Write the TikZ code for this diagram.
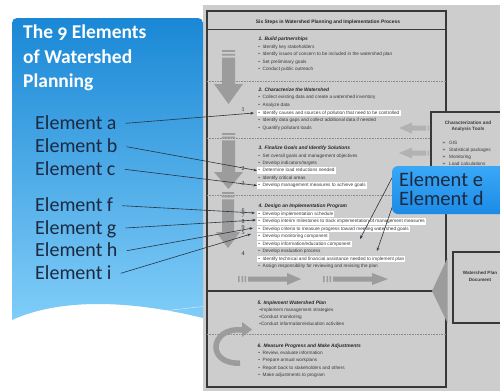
\documentclass[tikz,border=0pt]{standalone}
\usepackage{fontspec}
\setmainfont{Liberation Sans}
\newfontfamily\calib[Numbers=OldStyle]{Carlito}
\newfontfamily\dejavu{DejaVu Sans}
\newfontfamily\tms{Liberation Serif}
\usetikzlibrary{arrows.meta}
\definecolor{bgray}{HTML}{CDCDCD}
\definecolor{boxline}{HTML}{383838}
\definecolor{arrgray}{HTML}{9C9C9C}
\definecolor{larrgray}{HTML}{B2B2B2}
\definecolor{txtgray}{HTML}{3A3A3A}
\definecolor{navy}{HTML}{1C2940}
\definecolor{ptop}{HTML}{1A88D6}
\definecolor{pmid}{HTML}{4AAAEC}
\definecolor{pbot}{HTML}{80CDF8}
\definecolor{ctop}{HTML}{3AA8F6}
\definecolor{cbot}{HTML}{1C8BE6}
\definecolor{conncol}{HTML}{2A3440}
\tikzset{
  bul/.style={anchor=west, inner xsep=1.2pt, inner ysep=0.8pt, text height=3.6pt, text depth=1.1pt,
    font=\fontsize{4.7}{5}\selectfont, text=txtgray},
  hl/.style={bul, fill=white},
  stt/.style={anchor=west, inner sep=0.5pt, font=\fontsize{4.9}{5}\selectfont\bfseries\itshape, text=black!85},
  elab/.style={anchor=base west, inner sep=0pt, text height=12pt, text depth=0pt,
    font=\calib\fontsize{20}{23}\selectfont, text=navy},
  ttl/.style={anchor=base west, inner sep=0pt, font=\calib\bfseries\fontsize{19.5}{23}\selectfont, text=white},
  num/.style={font=\tms\fontsize{6}{6}\selectfont, inner sep=0pt, text=black!85},
  conn/.style={draw=conncol, line width=0.6pt, -{Stealth[length=3.5pt,width=2.6pt]}},
  sep/.style={draw=black!45, line width=0.4pt, dash pattern=on 0.8pt off 0.8pt},
  boxl/.style={draw=boxline, line width=1.1pt},
  small/.style={font=\fontsize{4.7}{5.6}\selectfont, text=txtgray, inner sep=0pt},
  calltxt/.style={anchor=base west, inner sep=0pt, text height=13pt, text depth=0pt,
    font=\calib\fontsize{20.5}{21}\selectfont, text=navy}
}
\newcommand\wsitem[3]{\node[bul] (#1) at (257,#2) {\textbullet\hspace{2.6pt}#3};}
\newcommand\wshitem[3]{\node[hl] (#1) at (257,#2) {\textbullet\hspace{2.6pt}#3};}
\begin{document}
\begin{tikzpicture}[x=1pt,y=-1pt]
\useasboundingbox (0,0) rectangle (500,391);
\fill[white] (0,0) rectangle (500,391);
% scanned figure background
\fill[bgray] (203,5) rectangle (500,391);
\draw[boxl] (207,11) rectangle (446,387);
\draw[draw=boxline, line width=0.6pt] (207,29) -- (446,29);
\draw[draw=boxline, line width=1.6pt] (207,291) -- (433,291);
\draw[sep] (207,81) -- (446,81);
\draw[sep] (207,138) -- (446,138);
\draw[sep] (207,195) -- (446,195);
\draw[sep] (207,334) -- (446,334);
\node[font=\fontsize{4.9}{5}\selectfont\bfseries, text=black!85, inner sep=0pt] (maintitle) at (328,22) {Six Steps in Watershed Planning and Implementation Process};
% down arrows
\fill[arrgray] (222,50) rectangle (235,51.8) (222,53.8) rectangle (235,55.6) (222,57.6) rectangle (235,84)
  (214,84) -- (243,84) -- (228.5,104) -- cycle;
\fill[arrgray] (222,133) rectangle (235,134.8) (222,136.6) rectangle (235,138.4) (222,140.4) rectangle (235,172)
  (214,172) -- (243,172) -- (228.5,189) -- cycle;
\fill[arrgray] (222,192) rectangle (234,193.8) (222,195.6) rectangle (234,197.4) (222,199.4) rectangle (234,232)
  (216,232) -- (240,232) -- (228,248) -- cycle;
% horizontal arrows
\fill[arrgray] (238,276) rectangle (239.5,282) (241.5,276) rectangle (243,282) (244.5,276) rectangle (246,282)
  (248,276.5) rectangle (287,281.5) (287,273) -- (301,279) -- (287,285) -- cycle;
\fill[arrgray] (323,276) rectangle (324.5,282) (326.5,276) rectangle (328,282) (329.5,276) rectangle (331,282)
  (333,276.5) rectangle (372,281.5) (372,273) -- (388,279) -- (372,285) -- cycle;
% curved arrow
\draw[arrgray, line width=5.5pt] (243,330) .. controls (225,328) and (216,338) .. (216,347) .. controls (216,357) and (226,364) .. (240,363);
\fill[arrgray] (242,322) -- (252,329.5) -- (242,337) -- cycle;
% step 1
\node[stt] (s1) at (258,39) {1. Build partnerships};
\wsitem{s1a}{47}{Identify key stakeholders}
\wsitem{s1b}{54}{Identify issues of concern to be included in the watershed plan}
\wsitem{s1c}{62}{Set preliminary goals}
\wsitem{s1d}{69}{Conduct public outreach}
% step 2
\node[stt] (s2) at (258,90) {2. Characterize the Watershed};
\wsitem{s2a}{97}{Collect existing data and create a watershed inventory}
\wsitem{s2b}{105}{Analyze data}
\wshitem{s2c}{113}{Identify causes and sources of pollution that need to be controlled}
\wsitem{s2d}{120}{Identify data gaps and collect additional data if needed}
\wsitem{s2e}{128}{Quantify pollutant loads}
% step 3
\node[stt] (s3) at (258,148) {3. Finalize Goals and Identify Solutions};
\wsitem{s3a}{156}{Set overall goals and management objectives}
\wsitem{s3b}{163}{Develop indicators/targets}
\wshitem{s3c}{170.5}{Determine load reductions needed}
\wsitem{s3d}{178}{Identify critical areas}
\wshitem{s3e}{185.5}{Develop management measures to achieve goals}
% step 4
\node[stt] (s4) at (258,206) {4. Design an Implementation Program};
\wshitem{s4a}{214}{Develop implementation schedule}
\wshitem{s4b}{221.5}{Develop interim milestones to track implementation of management measures}
\wshitem{s4c}{229}{Develop criteria to measure progress toward meeting watershed goals}
\wshitem{s4d}{236.5}{Develop monitoring component}
\wshitem{s4e}{244}{Develop information/education component}
\wsitem{s4f}{251.5}{Develop evaluation process}
\wshitem{s4g}{259}{Identify technical and financial assistance needed to implement plan}
\wsitem{s4h}{266.5}{Assign responsibility for reviewing and revising the plan}
% step 5
\node[stt] (s5) at (257,303) {5. Implement Watershed Plan};
\node[bul] (s5a) at (258,310) {\textbullet Implement management strategies};
\node[bul] (s5b) at (258,317) {\textbullet Conduct monitoring};
\node[bul] (s5c) at (258,324) {\textbullet Conduct information/education activities};
% step 6
\node[stt] (s6) at (257,346) {6. Measure Progress and Make Adjustments};
\wsitem{s6a}{353}{Review, evaluate information}
\wsitem{s6b}{360.5}{Prepare annual workplans}
\wsitem{s6c}{368}{Report back to stakeholders and others}
\wsitem{s6d}{375.5}{Make adjustments to program}
% numbers
\node[num] (n1) at (243,110) {1};
\node[num] (n2) at (243,168.5) {2};
\node[num] (n3) at (243,184) {3};
\node[num] (n6) at (243,210.5) {6};
\node[num] (n7) at (243,216) {7};
\node[num] (n8) at (243,222) {8};
\node[num] (n9) at (243,227.5) {9};
\node[num] (n5) at (243,233) {5};
\node[num] (n4) at (243,254) {4};
% characterization box
\fill[larrgray] (399,128) -- (412,122.5) -- (412,133.5) -- cycle (412,125.5) rectangle (426,130.5) (427.5,125.5) rectangle (429,130.5);
\fill[larrgray] (399,153) -- (412,147.5) -- (412,158.5) -- cycle (412,150.5) rectangle (426,155.5) (427.5,150.5) rectangle (429,155.5);
\draw[boxl, fill=bgray] (431,112) rectangle (506,206);
\node[font=\fontsize{4.7}{6.3}\selectfont\bfseries, text=txtgray, align=center, inner sep=0pt] (chart) at (468,126) {Characterization and\\Analysis Tools};
\node[small, anchor=west] (c1) at (442,143) {{\dejavu ➢}\hspace{3pt}GIS};
\node[small, anchor=west] (c2) at (442,150) {{\dejavu ➢}\hspace{3pt}Statistical packages};
\node[small, anchor=west] (c3) at (442,157) {{\dejavu ➢}\hspace{3pt}Monitoring};
\node[small, anchor=west] (c4) at (442,164) {{\dejavu ➢}\hspace{3pt}Load calculations};
% document box
\draw[boxl, fill=bgray] (453,252) rectangle (506,323);
\node[font=\fontsize{4.6}{7}\selectfont\bfseries, text=txtgray, align=center, inner sep=0pt] (doc) at (480,276.5) {Watershed Plan\\Document};
\fill[arrgray] (447.5,258) -- (432,291) -- (447.5,323) -- cycle;
% blue panel
\shade[top color=ptop, middle color=pmid, bottom color=pbot]
  (12,320) [rounded corners=5pt] -- (12,18) -- (203,18) [sharp corners] -- (203,318)
  .. controls (130,300) and (60,298) .. (12,320) -- cycle;
\draw[white, opacity=0.6, line width=0.5pt] (163,311) -- (203,306.5);
\node[ttl] (t1) at (23,38.5) {The 9 Elements};
\node[ttl] (t2) at (23,63) {of Watershed};
\node[ttl] (t3) at (23,87.5) {Planning};
\node[elab] (ea) at (35,129.3) {Element a};
\node[elab] (eb) at (35,152.7) {Element b};
\node[elab] (ec) at (35,175.3) {Element c};
\node[elab] (ef) at (35,211.7) {Element f};
\node[elab] (eg) at (35,234) {Element g};
\node[elab] (eh) at (35,256.7) {Element h};
\node[elab] (ei) at (35,279.3) {Element i};
% targets
\coordinate (ta) at (254,113);
\coordinate (tb) at (257,170.5);
\coordinate (tc) at (257,185.5);
\coordinate (tf) at (255,213);
\coordinate (tg) at (256,220);
\coordinate (th) at (253,228);
\coordinate (ti) at (251,234);
\draw[conn] ([xshift=9pt]ea.east) -- (ta);
\draw[conn] ([xshift=9pt]eb.east) -- (tb);
\draw[conn] ([xshift=9pt]ec.east) -- (tc);
\draw[conn] ([xshift=9pt]ef.east) -- (tf);
\draw[conn] ([xshift=9pt]eg.east) -- (tg);
\draw[conn] ([xshift=9pt]eh.east) -- (th);
\draw[conn] ([xshift=9pt]ei.east) -- (ti);
% callout
\coordinate (ce1) at (393,176);
\coordinate (ce2) at (395,199);
\coordinate (te) at (360,239);
\coordinate (td) at (377,251);
\draw[conn] (ce1) -- (te);
\draw[conn] (ce2) -- (td);
\shade[top color=ctop, bottom color=cbot] (500,166) [rounded corners=6pt] -- (392,166) -- (392,214) [sharp corners] -- (500,214) -- cycle;
\node[calltxt] (cee) at (399,186) {Element e};
\node[calltxt] (ced) at (399,205.5) {Element d};
\end{tikzpicture}
\end{document}
